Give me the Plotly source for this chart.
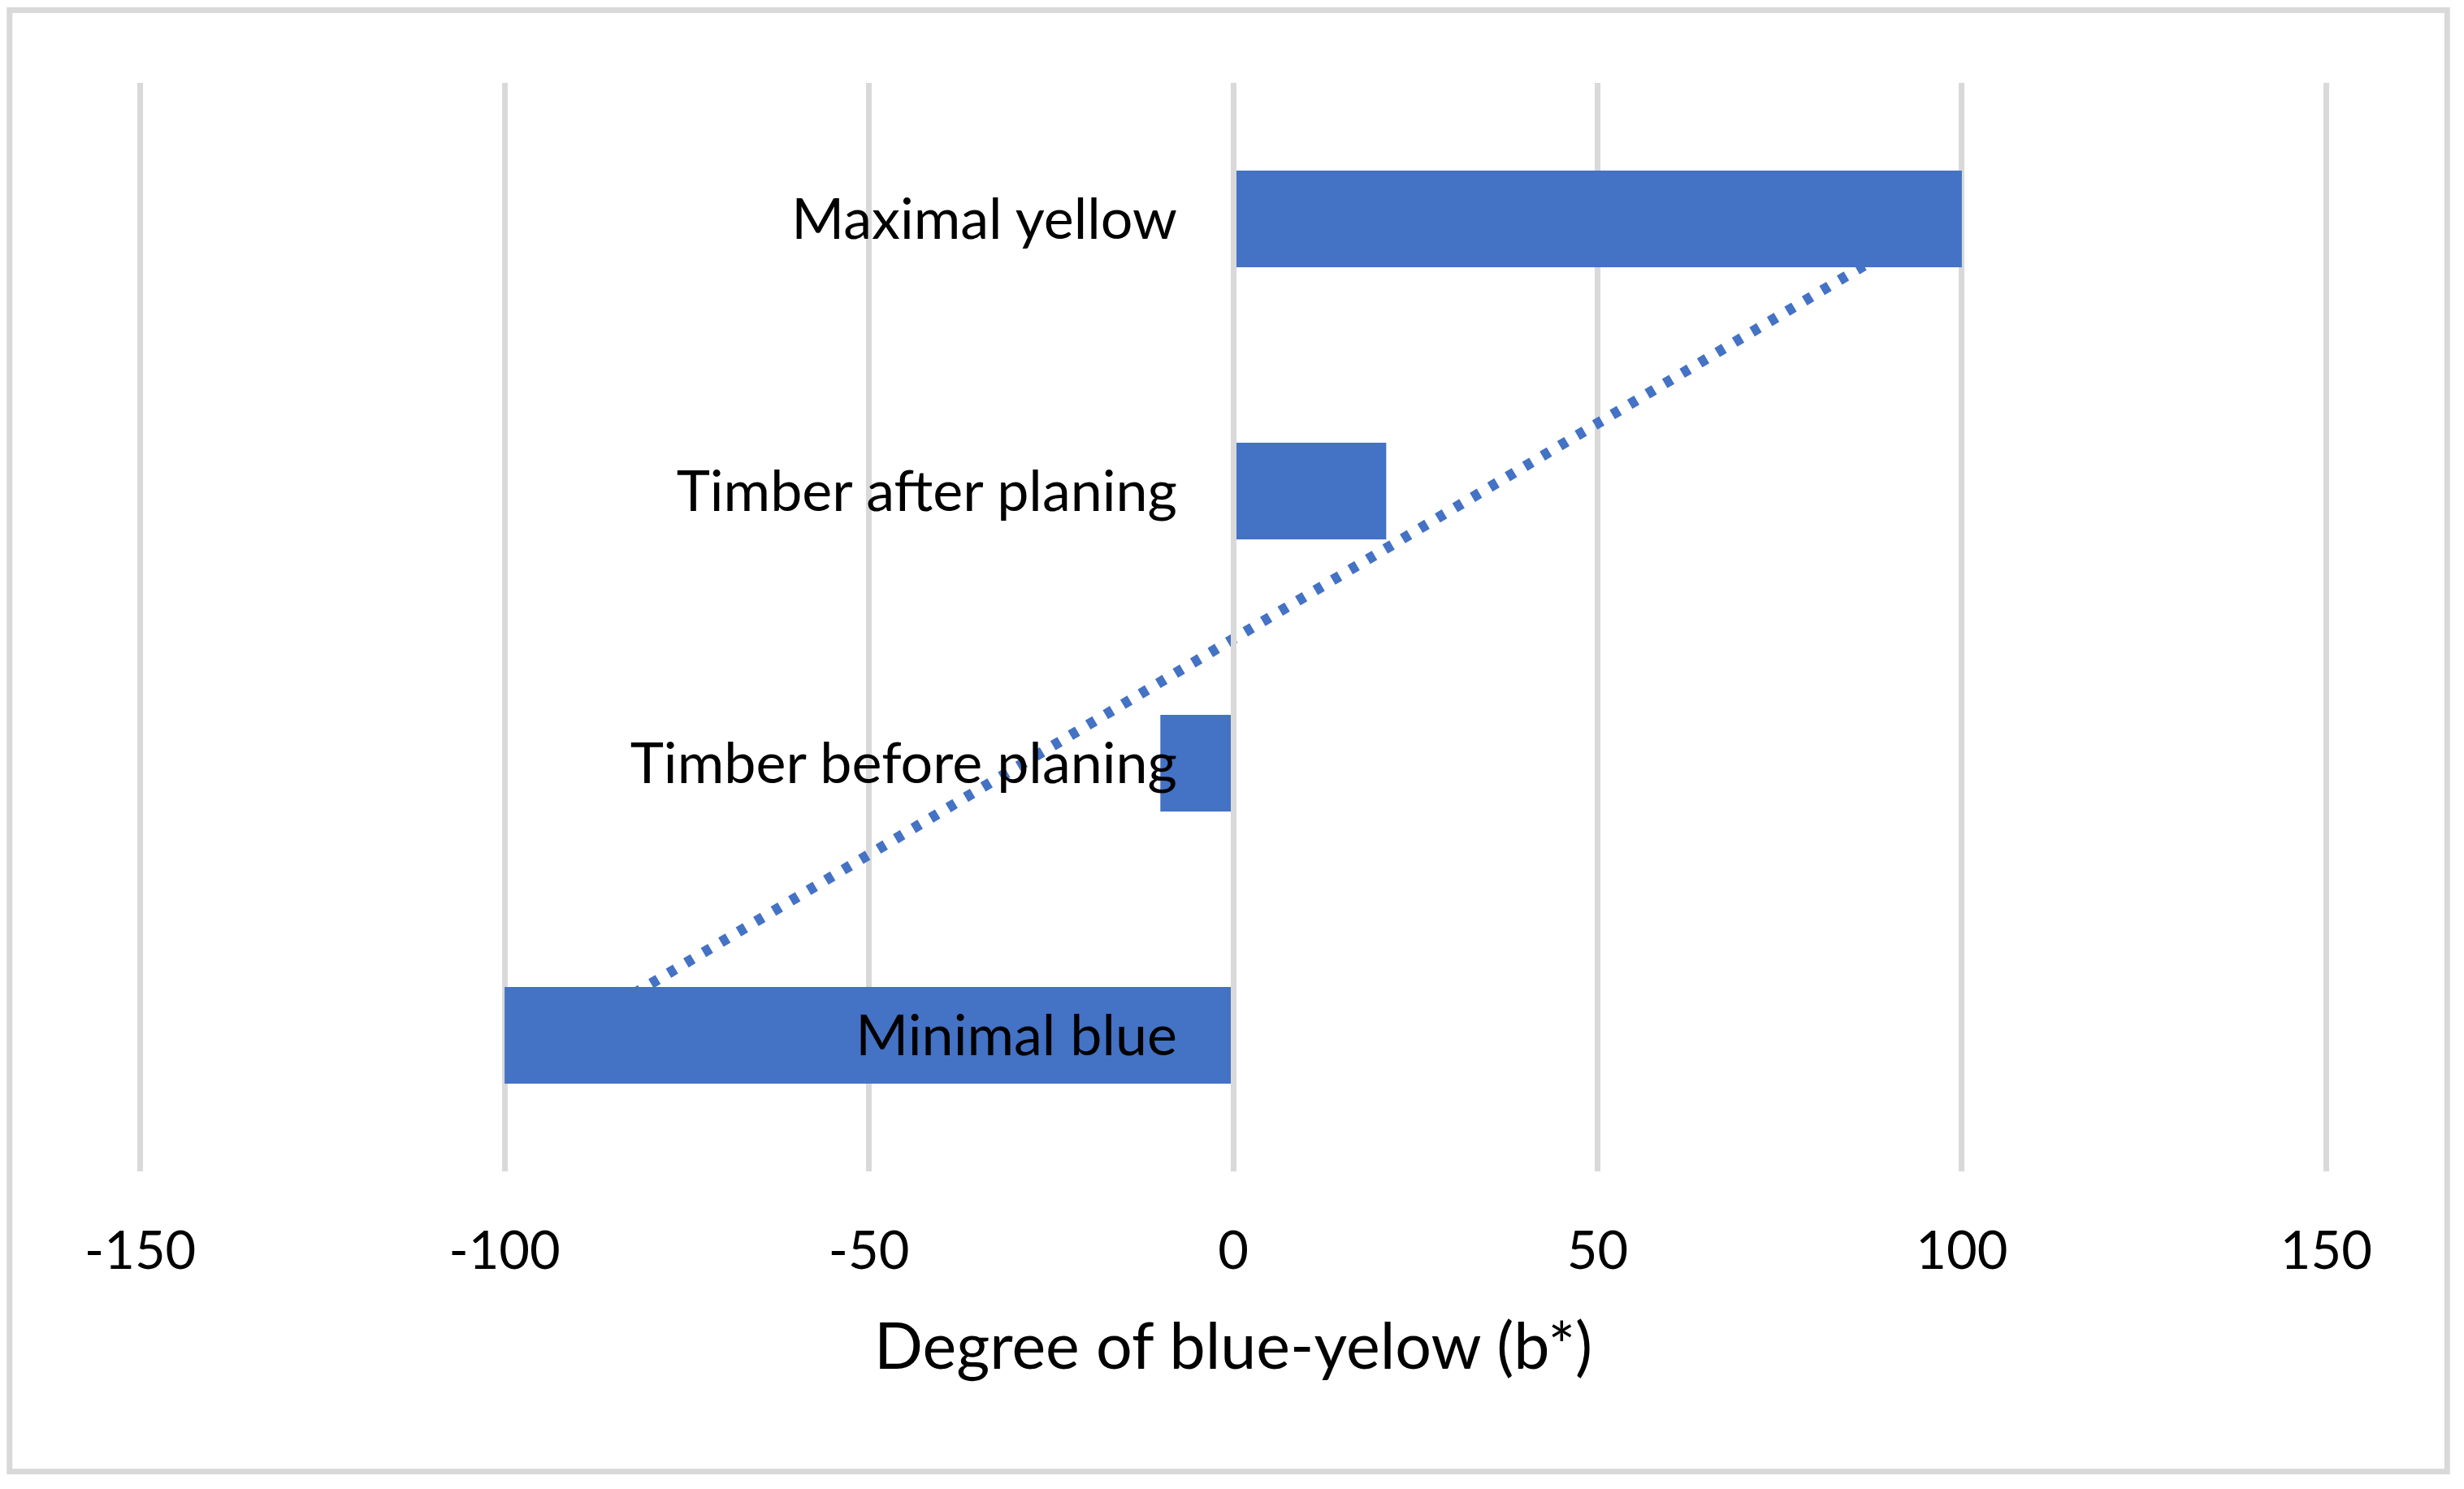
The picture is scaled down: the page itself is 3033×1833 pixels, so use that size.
import numpy as np
import plotly.graph_objects as go

# ---- data ----
categories = ["Minimal blue", "Timber before planing", "Timber after planing", "Maximal yellow"]
b_values = [-100, -10, 21, 100]
x_tickvals = [-150, -100, -50, 0, 50, 100, 150]
x_ticklabels = ["-150", "-100", "-50", "0", "50", "100", "150"]
x_title = "Degree of blue-yelow (b*)"

# linear trendline (as Excel: category index 1..n vs value)
idx = np.arange(1, len(categories) + 1)
slope, intercept = np.polyfit(idx, b_values, 1)
trend = slope * idx + intercept

# ---- layout geometry (page pixels; the page body adds an 8px offset) ----
OFF = 8
PAGE_W, PAGE_H = 3033, 1833
W, H = PAGE_W - 2 * OFF, PAGE_H - 2 * OFF
X_LO, X_HI = -150, 150
GRID_L, GRID_R = 172.5, 2863.5        # page x of -150 and 150 gridlines
PLOT_T, PLOT_B = 102, 1442            # page y of plot area
PAD_U = 0.3                           # small range padding so edge gridlines are drawn
SCALE = (GRID_R - GRID_L) / (X_HI - X_LO)
plot_l = GRID_L - PAD_U * SCALE - OFF
plot_r = GRID_R + PAD_U * SCALE - OFF
ML, MR = plot_l, W - plot_r
MT, MB = PLOT_T - OFF, H - (PLOT_B - OFF)
PW, PH = W - ML - MR, H - MT - MB

def px_x(p):
    return (p - OFF - ML) / PW

def px_y(p):
    return (H - MB - (p - OFF)) / PH

BLUE = "#4472c4"
GRID = "#d9d9d9"
FONT = "Lato"

fig = go.Figure()
fig.add_trace(go.Scatter(
    x=trend, y=categories, mode="lines",
    line=dict(color=BLUE, width=13, dash="10px,15px"),
    hoverinfo="skip", showlegend=False,
))
fig.add_trace(go.Bar(
    x=b_values, y=categories, orientation="h",
    marker=dict(color=BLUE, line=dict(width=0)),
    showlegend=False,
))

fig.update_layout(
    width=W, height=H,
    margin=dict(l=ML, r=MR, t=MT, b=MB, pad=0),
    paper_bgcolor="white", plot_bgcolor="white",
    bargap=0.645,
    font=dict(family=FONT, color="black"),
    xaxis=dict(
        range=[X_LO - PAD_U, X_HI + PAD_U],
        tickvals=x_tickvals, ticktext=x_ticklabels,
        showgrid=True, gridcolor=GRID, gridwidth=7,
        zeroline=False, showline=False, ticks="",
        tickfont=dict(family=FONT, size=65, color="black"),
        ticklabelstandoff=54,
        title=dict(text=x_title, font=dict(family=FONT, size=79, color="black"), standoff=54),
        fixedrange=True,
    ),
    yaxis=dict(
        type="category", categoryorder="array", categoryarray=categories,
        range=[-0.5, len(categories) - 0.5],
        anchor="free", position=0.5,
        showgrid=False, zeroline=False,
        showline=True, linecolor=GRID, linewidth=7,
        ticks="", ticklabelstandoff=52,
        tickfont=dict(family=FONT, size=70, color="black"),
        layer="above traces",
        fixedrange=True,
    ),
    shapes=[dict(
        type="rect", xref="paper", yref="paper",
        x0=px_x(11.5), x1=px_x(3012.5), y0=px_y(1811.5), y1=px_y(12.5),
        line=dict(color=GRID, width=7), fillcolor="rgba(0,0,0,0)", layer="below",
    )],
)

fig.write_html("out.html")
